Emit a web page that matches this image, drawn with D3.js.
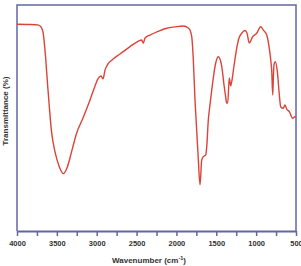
<!DOCTYPE html>
<html>
<head>
<meta charset="utf-8">
<script src="https://cdn.jsdelivr.net/npm/d3@7"></script>
<style>
  body { margin: 0; background: #fff; }
  text { font-family: "Liberation Sans", Arial, sans-serif; font-weight: bold; }
</style>
</head>
<body>
<div id="chart"></div>
<script>
// wavenumber (cm-1) and transmittance (arbitrary %)
var wavenumber = [4000, 3837, 3737, 3699, 3674, 3649, 3611, 3565, 3523, 3473, 3419, 3373, 3310, 3251, 3172, 3084, 3021, 2980, 2946, 2921, 2896, 2858, 2808, 2708, 2582, 2482, 2436, 2416, 2394, 2332, 2231, 2122, 2018, 1914, 1851, 1830, 1808, 1788, 1767, 1746, 1725, 1704, 1683, 1663, 1633, 1620, 1600, 1579, 1541, 1510, 1475, 1432, 1403, 1382, 1370, 1357, 1337, 1319, 1306, 1278, 1244, 1215, 1181, 1140, 1115, 1086, 1043, 993, 943, 910, 867, 835, 814, 805, 792, 783, 776, 760, 734, 709, 692, 659, 638, 617, 584, 541, 513, 500];
var transmittance = [91.5, 91.4, 91.2, 90.3, 88.1, 80.1, 62.4, 43.4, 35.0, 28.8, 25.4, 27.9, 35.8, 43.4, 50.0, 58.0, 64.2, 67.6, 68.6, 67.3, 71.2, 73.9, 75.7, 78.3, 81.6, 83.9, 84.5, 83.1, 85.4, 86.7, 88.3, 89.7, 90.3, 90.7, 89.8, 88.9, 86.0, 75.7, 58.0, 44.7, 31.4, 20.4, 31.4, 32.9, 33.6, 37.2, 49.1, 55.8, 66.8, 73.9, 77.1, 73.0, 64.6, 59.3, 56.6, 56.6, 67.7, 64.2, 66.1, 73.0, 80.8, 85.4, 87.5, 88.7, 87.6, 83.2, 86.0, 87.5, 90.4, 88.9, 86.7, 80.8, 74.8, 71.2, 60.2, 69.0, 73.5, 74.9, 70.5, 60.2, 55.0, 54.3, 55.8, 54.0, 52.8, 49.9, 50.6, 50.4];
var majorTicks = [4000, 3500, 3000, 2500, 2000, 1500, 1000, 500];
var minorTicks = [3750, 3250, 2750, 2250, 1750, 1250, 750];

var width = 301, height = 266;
var margin = { top: 5, right: 5, bottom: 35, left: 17 };

var svg = d3.select("#chart")
	.append("svg")
	.attr("width", width)
	.attr("height", height);

var x = d3.scaleLinear()
	.domain([4000, 500])
	.range([margin.left, width - margin.right]);

var y = d3.scaleLinear()
	.domain([0, 100])
	.range([height - margin.bottom, margin.top]);

var axisColor = "#6565a5";

// frame: left, top, right
svg.append("path")
	.attr("d", "M" + x(4000) + "," + y(0) + "V" + y(100) + "H" + x(500) + "V" + y(0))
	.attr("fill", "none")
	.attr("stroke", axisColor)
	.attr("stroke-width", 1.5);

// bottom axis with labelled ticks
var xAxis = svg.append("g")
	.attr("transform", "translate(0," + y(0) + ")")
	.call(d3.axisBottom(x).tickValues(majorTicks).tickSize(5).tickSizeOuter(0).tickFormat(d3.format("d")));
xAxis.select(".domain").attr("stroke", axisColor).attr("stroke-width", 2);
xAxis.selectAll(".tick line").attr("stroke", axisColor).attr("stroke-width", 1.5);
xAxis.selectAll(".tick text")
	.attr("fill", "#333")
	.attr("font-size", "7.5px")
	.attr("font-family", "'Liberation Sans', Arial, sans-serif")
	.attr("font-weight", "bold")
	.attr("dy", "0.9em");

// minor ticks
svg.append("g")
	.attr("transform", "translate(0," + y(0) + ")")
	.call(d3.axisBottom(x).tickValues(minorTicks).tickSize(5).tickFormat(""))
	.call(function (g) { g.select(".domain").remove(); })
	.selectAll(".tick line").attr("stroke", axisColor).attr("stroke-width", 1.5);

// spectrum
var line = d3.line()
	.x(function (d) { return x(d[0]); })
	.y(function (d) { return y(d[1]); })
	.curve(d3.curveMonotoneX);

svg.append("path")
	.datum(d3.zip(wavenumber, transmittance))
	.attr("d", line)
	.attr("fill", "none")
	.attr("stroke", "#dc4338")
	.attr("stroke-width", 1.4);

// titles
var xTitle = svg.append("text")
	.attr("x", 149)
	.attr("y", 263)
	.attr("text-anchor", "middle")
	.attr("font-size", "8px")
	.attr("fill", "#333")
	.text("Wavenumber (cm");
xTitle.append("tspan").attr("dy", -3).attr("font-size", "5.5px").text("-1");
xTitle.append("tspan").attr("dy", 3).text(")");

svg.append("text")
	.attr("transform", "translate(8,111) rotate(-90)")
	.attr("text-anchor", "middle")
	.attr("font-size", "8px")
	.attr("fill", "#333")
	.text("Transmittance (%)");
</script>
</body>
</html>
